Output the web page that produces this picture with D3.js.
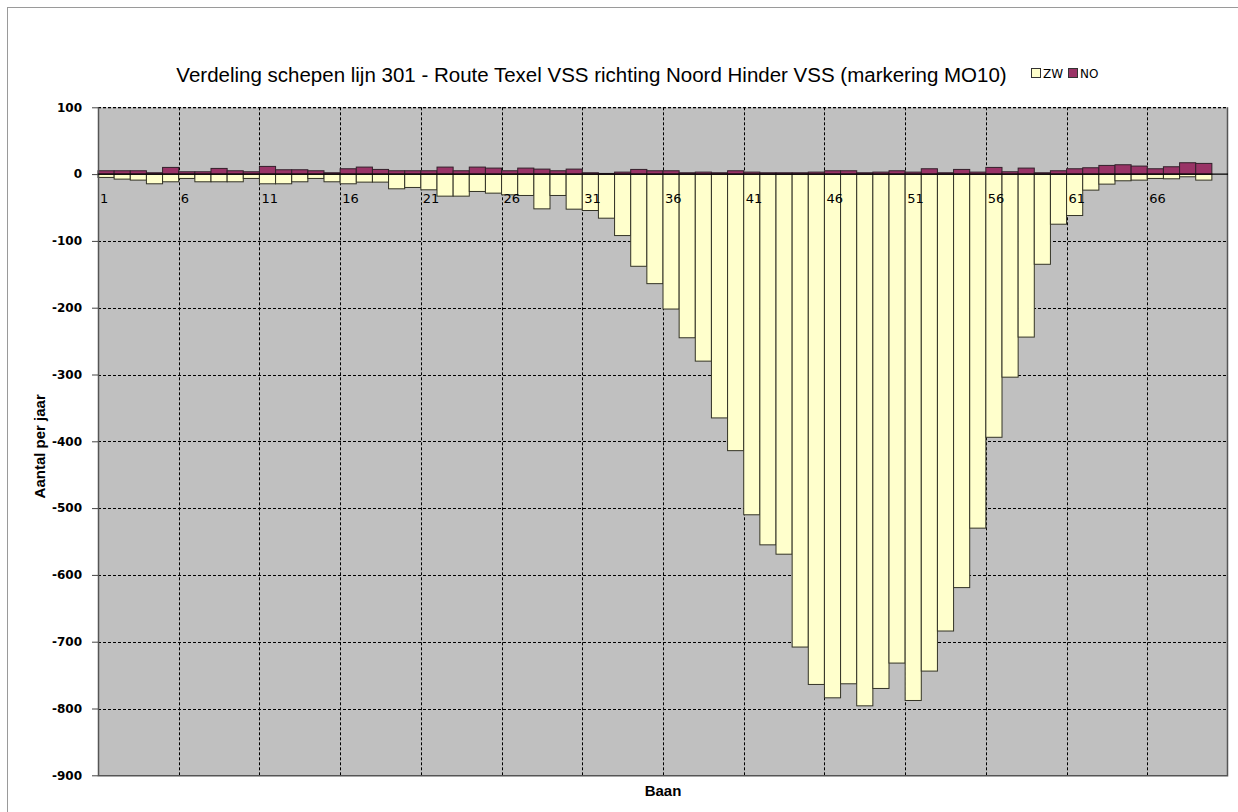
<!DOCTYPE html>
<html>
<head>
<meta charset="utf-8">
<script src="https://cdn.jsdelivr.net/npm/d3@7"></script>
<style>
  html, body { margin: 0; padding: 0; background: #ffffff; }
  svg { display: block; }
</style>
</head>
<body>
<svg id="chart" width="1238" height="812"></svg>
<script>
// Ship counts per lane (baan) on line 301, split by direction of travel.
const lanes = d3.range(1, 71);            // 70 lane slots on the category axis
const zwValues = [
  -5, -7.5, -9, -14.5, -11.5, -6.5, -11.5, -11.5, -11.5, -6.5,
  -14.5, -14.5, -11.5, -6.5, -11.5, -14.5, -12, -12, -22, -20,
  -23.5, -33, -33, -26, -28.5, -31, -32, -52, -32, -52.5,
  -54.5, -66, -92, -138, -164, -202, -245, -280, -365, -414,
  -510, -555, -569, -708, -764, -784, -763, -796, -770, -732,
  -788, -744, -684, -619, -530, -394, -304, -244, -135, -75,
  -62, -24, -15, -10, -9, -6.5, -7, -4, -9
];
const noValues = [
  5, 5, 5, 2, 10, 3.5, 3.5, 8.5, 5, 3.5,
  11.5, 6.5, 6.5, 5, 2, 8, 10.5, 7, 5, 5,
  5, 10.5, 5, 10.5, 9, 5, 9, 7.5, 5, 7.5,
  2, 1, 3, 7, 5, 5, 2, 3, 2, 5,
  3, 2, 2, 2, 3, 5, 5, 2, 3, 5,
  3, 8, 2, 7, 3, 10, 3.5, 9, 2, 5,
  8, 9.5, 13, 14, 12, 8, 11, 17, 16
];
const yTicks = [100, 0, -100, -200, -300, -400, -500, -600, -700, -800, -900];
const xLabelLanes = [1, 6, 11, 16, 21, 26, 31, 36, 41, 46, 51, 56, 61, 66];
const seriesNames = ["ZW", "NO"];
const seriesColors = { ZW: "#FFFFCC", NO: "#993366" };

const titleText = "Verdeling schepen lijn 301 - Route Texel VSS richting Noord Hinder VSS (markering MO10)";

const svg = d3.select("#chart");

// Outer chart frame
svg.append("rect")
  .attr("x", 7.5).attr("y", 7.5)
  .attr("width", 1260).attr("height", 900)
  .attr("fill", "#ffffff")
  .attr("stroke", "#9a9a9a");

const plot = { left: 98, right: 1228, top: 107.3, bottom: 775.3 };

const x = d3.scaleBand()
  .domain(lanes)
  .range([plot.left, plot.right])
  .padding(0);

const y = d3.scaleLinear()
  .domain([-900, 100])
  .range([plot.bottom, plot.top]);

// Plot background
svg.append("rect")
  .attr("x", plot.left).attr("y", plot.top)
  .attr("width", plot.right - plot.left)
  .attr("height", plot.bottom - plot.top)
  .attr("fill", "#C0C0C0");

// Horizontal dashed gridlines
svg.append("g")
  .selectAll("line")
  .data(yTicks.filter(d => d > -900 && d !== 0))
  .join("line")
  .attr("x1", plot.left).attr("x2", plot.right)
  .attr("y1", d => Math.round(y(d)) + 0.5)
  .attr("y2", d => Math.round(y(d)) + 0.5)
  .attr("stroke", "#000")
  .attr("stroke-width", 1)
  .attr("stroke-dasharray", "3,2");

// Vertical dashed gridlines every five lanes
const vLines = lanes.filter(d => d % 5 === 0 && d < 70);
svg.append("g")
  .selectAll("line")
  .data(vLines)
  .join("line")
  .attr("x1", d => Math.round(x(d) + x.bandwidth()) + 0.5)
  .attr("x2", d => Math.round(x(d) + x.bandwidth()) + 0.5)
  .attr("y1", plot.top).attr("y2", plot.bottom)
  .attr("stroke", "#000")
  .attr("stroke-width", 1)
  .attr("stroke-dasharray", "3,2");

// Bars: ZW below zero, NO above zero
const rows = zwValues.map((zw, i) => ({ lane: lanes[i], ZW: zw, NO: noValues[i] }));

const bars = svg.append("g");
bars.selectAll("rect.zw")
  .data(rows)
  .join("rect")
  .attr("class", "zw")
  .attr("x", d => x(d.lane))
  .attr("width", x.bandwidth())
  .attr("y", y(0))
  .attr("height", d => y(d.ZW) - y(0))
  .attr("fill", seriesColors.ZW)
  .attr("stroke", "#333326")
  .attr("stroke-width", 1);

bars.selectAll("rect.no")
  .data(rows)
  .join("rect")
  .attr("class", "no")
  .attr("x", d => x(d.lane))
  .attr("width", x.bandwidth())
  .attr("y", d => y(d.NO))
  .attr("height", d => y(0) - y(d.NO))
  .attr("fill", seriesColors.NO)
  .attr("stroke", "#33202b")
  .attr("stroke-width", 1);

// Plot border (left, right, bottom solid; top is the dashed 100 gridline)
svg.append("line")
  .attr("x1", plot.left).attr("x2", plot.right)
  .attr("y1", plot.top + 0.5).attr("y2", plot.top + 0.5)
  .attr("stroke", "#000").attr("stroke-dasharray", "3,2");
svg.append("path")
  .attr("d", `M${plot.left + 0.5},${plot.top} V${plot.bottom + 0.5} H${plot.right - 0.5} V${plot.top}`)
  .attr("fill", "none")
  .attr("stroke", "#555")
  .attr("stroke-width", 1.5);

// Zero axis line
svg.append("line")
  .attr("x1", plot.left).attr("x2", plot.right)
  .attr("y1", y(0)).attr("y2", y(0))
  .attr("stroke", "#000")
  .attr("stroke-width", 1.2);

// Y axis
const yAxis = d3.axisLeft(y)
  .tickValues(yTicks)
  .tickSize(6)
  .tickPadding(10)
  .tickFormat(d => String(d));
const yAxisG = svg.append("g")
  .attr("transform", `translate(${plot.left},0)`)
  .call(yAxis);
yAxisG.select(".domain").remove();
yAxisG.selectAll(".tick line").attr("stroke", "#444");
yAxisG.selectAll(".tick text")
  .attr("font-family", "'DejaVu Sans', sans-serif")
  .attr("font-weight", "bold")
  .attr("font-size", "12px")
  .attr("fill", "#000");

// Lane labels just below the zero line
svg.append("g")
  .selectAll("text")
  .data(xLabelLanes)
  .join("text")
  .attr("x", d => x(d) + 2)
  .attr("y", y(0) + 29)
  .attr("font-family", "'DejaVu Sans', sans-serif")
  .attr("font-size", "13px")
  .attr("fill", "#000")
  .text(d => d);

// Title
svg.append("text")
  .attr("x", 591.5)
  .attr("y", 82)
  .attr("text-anchor", "middle")
  .attr("font-family", "'Liberation Sans', Arial, sans-serif")
  .attr("font-size", "20.5px")
  .attr("fill", "#000")
  .text(titleText);

// Legend
const legend = svg.append("g").attr("transform", "translate(1031,73)");
seriesNames.forEach((name, i) => {
  const g = legend.append("g").attr("transform", `translate(${i * 37},0)`);
  g.append("rect")
    .attr("x", 0.5).attr("y", -4.5)
    .attr("width", 9).attr("height", 9)
    .attr("fill", seriesColors[name])
    .attr("stroke", "#333");
  g.append("text")
    .attr("x", 12).attr("y", 5)
    .attr("font-family", "'DejaVu Sans', sans-serif")
    .attr("font-size", "12px")
    .attr("fill", "#000")
    .text(name);
});

// Axis titles
svg.append("text")
  .attr("transform", `translate(45,${(plot.top + plot.bottom) / 2 + 5}) rotate(-90)`)
  .attr("text-anchor", "middle")
  .attr("font-family", "'Liberation Sans', Arial, sans-serif")
  .attr("font-weight", "bold")
  .attr("font-size", "15px")
  .attr("fill", "#000")
  .text("Aantal per jaar");

svg.append("text")
  .attr("x", (plot.left + plot.right) / 2)
  .attr("y", 796)
  .attr("text-anchor", "middle")
  .attr("font-family", "'Liberation Sans', Arial, sans-serif")
  .attr("font-weight", "bold")
  .attr("font-size", "15px")
  .attr("fill", "#000")
  .text("Baan");
</script>
</body>
</html>
